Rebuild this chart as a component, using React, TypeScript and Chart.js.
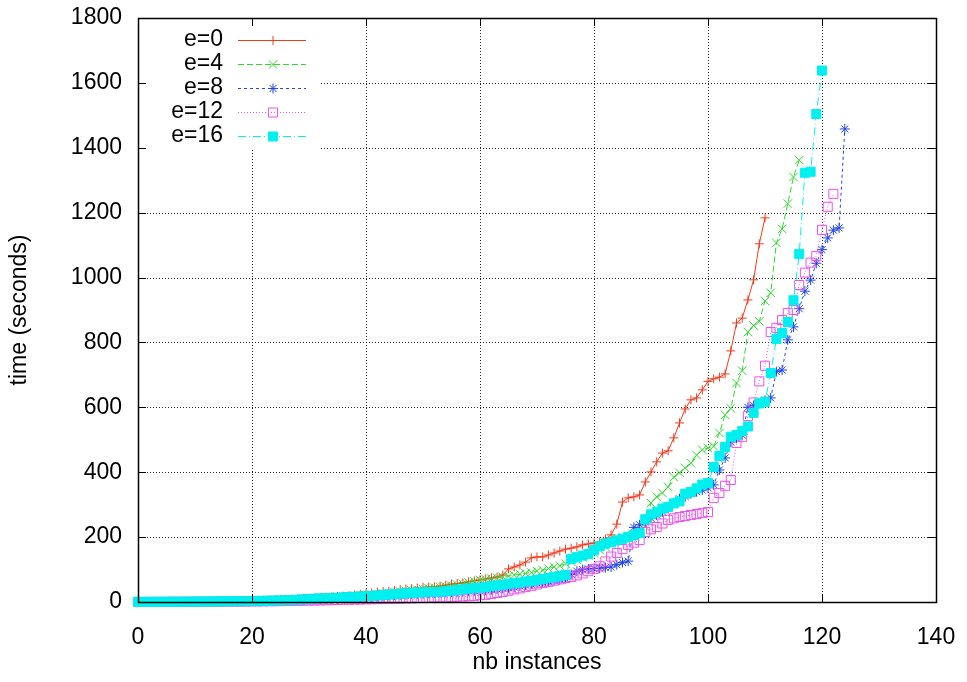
import React, { useEffect, useRef } from 'react';
import { Chart, registerables } from 'chart.js';

Chart.register(...registerables);

const FONT = '"Liberation Sans", Arial, Helvetica, sans-serif';
const FONT_SIZE = 23;

// Axis ticks
const xTicks = [0, 20, 40, 60, 80, 100, 120, 140];
const yTicks = [0, 200, 400, 600, 800, 1000, 1200, 1400, 1600, 1800];

// Series labels
const seriesLabels = ['e=0', 'e=4', 'e=8', 'e=12', 'e=16'];

// time (seconds) for instance index 0..N (sorted)
const e0 = [
  0.3, 0.4, 0.5, 0.6, 0.7, 0.8, 0.9, 1.0, 1.1, 1.2,
  1.3, 1.5, 1.7, 1.9, 2.1, 2.3, 2.6, 2.9, 3.2, 3.5,
  4, 4.5, 5, 5.5, 6, 7, 8, 9, 10, 11,
  12, 13, 14, 15, 16, 17, 18, 19, 22, 24,
  26, 28, 30, 32, 33, 35, 38, 40, 41, 43,
  45, 46, 47, 49, 52, 55, 57, 59, 62, 65,
  68, 71, 74, 77, 83, 102, 108, 114, 123, 136,
  139, 139, 145, 151, 157, 163, 166, 170, 176, 179,
  182, 185, 194, 207, 240, 308, 321, 324, 330, 370,
  401, 432, 459, 466, 506, 552, 595, 623, 629, 654,
  680, 688, 693, 703, 774, 860, 875, 931, 993, 1104,
  1184,
];

const e4 = [
  0.2, 0.3, 0.4, 0.5, 0.6, 0.7, 0.8, 0.9, 1.0, 1.1,
  1.2, 1.4, 1.6, 1.8, 2.0, 2.2, 2.4, 2.7, 3.0, 3.3,
  3.6, 4, 4.5, 5, 5.5, 6, 7, 8, 9, 10,
  11, 12, 13, 14, 15, 16, 17, 18, 19, 20,
  21, 22, 24, 26, 28, 30, 32, 34, 36, 38,
  40, 42, 44, 46, 48, 50, 53, 56, 60, 64,
  68, 70, 72, 75, 78, 80, 83, 86, 88, 91,
  95, 98, 103, 108, 112, 118, 124, 130, 138, 144,
  150, 160, 170, 182, 190, 200, 204, 210, 218, 232,
  305, 324, 336, 355, 385, 398, 413, 428, 453, 469,
  475, 480, 521, 577, 597, 675, 713, 832, 852, 865,
  928, 953, 1107, 1150, 1228, 1310, 1362,
];

const e8 = [
  0.1, 0.2, 0.3, 0.3, 0.4, 0.5, 0.6, 0.7, 0.8, 0.9,
  1.0, 1.1, 1.2, 1.4, 1.6, 1.8, 2.0, 2.2, 2.5, 2.8,
  3.1, 3.4, 3.7, 4, 4.4, 4.8, 5.2, 5.7, 6.2, 6.8,
  7.4, 8, 8.6, 9.2, 10, 11, 12, 13, 14, 15,
  16, 17, 18, 19, 20, 21, 22, 23, 24, 25,
  26, 27, 28, 29, 30, 31, 32, 33, 34, 35,
  36, 37, 38, 40, 42, 44, 46, 49, 52, 55,
  58, 60, 63, 66, 68, 72, 85, 95, 100, 102,
  103, 104, 106, 108, 115, 122, 126, 230, 238, 248,
  258, 268, 278, 288, 305, 318, 325, 334, 340, 345,
  352, 361, 407, 444, 493, 505, 515, 600, 606, 612,
  622, 629, 710, 715, 808, 848, 904, 958, 992, 1044,
  1086, 1122, 1146, 1153, 1458,
];

const e12 = [
  0.1, 0.1, 0.2, 0.2, 0.3, 0.3, 0.4, 0.4, 0.5, 0.5,
  0.6, 0.7, 0.8, 0.9, 1.0, 1.1, 1.2, 1.3, 1.4, 1.5,
  1.7, 1.9, 2.1, 2.3, 2.5, 2.8, 3.1, 3.4, 3.7, 4,
  4.3, 4.6, 5, 5.4, 5.8, 6.2, 6.6, 7, 7.4, 7.8,
  8.2, 8.6, 9, 9.4, 9.8, 10, 10.5, 11, 11.5, 12,
  12.5, 13, 13.5, 14, 14.5, 15, 16, 17, 18, 19,
  21, 22, 25, 28, 31, 35, 39, 42, 46, 50,
  54, 59, 62, 66, 70, 74, 77, 82, 88, 95,
  102, 110, 125, 140, 151, 163, 176, 183, 191, 216,
  224, 231, 242, 253, 258, 262, 265, 268, 271, 274,
  277, 321, 336, 358, 376, 490, 509, 573, 615, 680,
  728, 832, 845, 869, 891, 900, 977, 1015, 1046, 1066,
  1147, 1218, 1258,
];

const e16 = [
  0.3, 0.4, 0.5, 0.6, 0.7, 0.8, 0.9, 1.0, 1.1, 1.2,
  1.3, 1.4, 1.5, 1.6, 1.8, 2.0, 2.2, 2.4, 2.6, 2.8,
  3.0, 3.3, 3.6, 4, 4.5, 5, 5.5, 6, 7, 8,
  9, 10, 11, 11.5, 12, 13, 14, 15, 16, 17,
  18, 19, 20, 22, 23, 24, 25, 27, 28, 29,
  30, 30.5, 31, 31, 33, 35, 37, 39, 41, 43,
  44, 46, 49, 51, 53, 56, 58, 60, 63, 65,
  68, 71, 74, 77, 80, 83, 133, 138, 143, 148,
  160, 172, 180, 184, 190, 195, 200, 206, 212, 255,
  270, 277, 288, 293, 304, 310, 334, 339, 350, 362,
  367, 416, 450, 478, 509, 515, 527, 541, 583, 612,
  617, 706, 811, 829, 863, 930, 1073, 1323, 1326, 1504,
  1638,
];

const seriesValues = [e0, e4, e8, e12, e16];
const seriesColors = ['#f23a1d', '#2ed82e', '#2244e6', '#f050f0', '#00f0f0'];
const seriesDash: number[][] = [[], [6, 3], [3, 3], [1, 2], [8, 3, 1, 3]];
const seriesPointStyle = ['cross', 'crossRot', 'star', 'rect', 'rect'];
const seriesPointRadius = [4.5, 6, 5, 6.4, 6.4];
const seriesFilled = [false, false, false, false, true];

function drawMarker(ctx: CanvasRenderingContext2D, style: string, x: number, y: number, r: number, color: string, filled: boolean) {
  ctx.save();
  ctx.setLineDash([]);
  ctx.strokeStyle = color;
  ctx.fillStyle = color;
  ctx.lineWidth = 1;
  ctx.beginPath();
  const d = r * Math.SQRT1_2;
  if (style === 'cross' || style === 'star') {
    ctx.moveTo(x - r, y); ctx.lineTo(x + r, y);
    ctx.moveTo(x, y - r); ctx.lineTo(x, y + r);
  }
  if (style === 'crossRot' || style === 'star') {
    ctx.moveTo(x - d, y - d); ctx.lineTo(x + d, y + d);
    ctx.moveTo(x - d, y + d); ctx.lineTo(x + d, y - d);
  }
  if (style === 'rect') {
    ctx.rect(x - d, y - d, 2 * d, 2 * d);
    if (filled) ctx.fill();
  }
  ctx.stroke();
  ctx.restore();
}

const framePlugin = {
  id: 'gnuplotFrame',
  beforeDatasetsDraw(chart: any) {
    const { ctx, chartArea: a, scales } = chart;
    const xs = scales.x;
    const ys = scales.y;
    ctx.save();
    ctx.strokeStyle = 'rgba(0,0,0,0.85)';
    ctx.lineWidth = 1;
    ctx.setLineDash([1, 2]);
    for (const v of xTicks) {
      if (v === xTicks[0] || v === xTicks[xTicks.length - 1]) continue;
      const px = Math.round(xs.getPixelForValue(v)) + 0.5;
      ctx.beginPath();
      ctx.moveTo(px, a.top);
      ctx.lineTo(px, a.bottom);
      ctx.stroke();
    }
    for (const v of yTicks) {
      if (v === yTicks[0] || v === yTicks[yTicks.length - 1]) continue;
      const py = Math.round(ys.getPixelForValue(v)) + 0.5;
      ctx.beginPath();
      ctx.moveTo(a.left, py);
      ctx.lineTo(a.right, py);
      ctx.stroke();
    }
    ctx.setLineDash([]);
    // opaque key box
    ctx.fillStyle = '#ffffff';
    ctx.fillRect(a.left + 1, a.top + 1, 181, 131);
    ctx.restore();
  },
  afterDatasetsDraw(chart: any) {
    const { ctx, chartArea: a, scales } = chart;
    const xs = scales.x;
    const ys = scales.y;
    ctx.save();
    ctx.setLineDash([]);
    ctx.strokeStyle = '#000';
    ctx.lineWidth = 1;
    const tl = 8;
    for (const v of xTicks) {
      const px = Math.round(xs.getPixelForValue(v)) + 0.5;
      ctx.beginPath();
      ctx.moveTo(px, a.bottom); ctx.lineTo(px, a.bottom - tl);
      ctx.moveTo(px, a.top); ctx.lineTo(px, a.top + tl);
      ctx.stroke();
    }
    for (const v of yTicks) {
      const py = Math.round(ys.getPixelForValue(v)) + 0.5;
      ctx.beginPath();
      ctx.moveTo(a.left, py); ctx.lineTo(a.left + tl, py);
      ctx.moveTo(a.right, py); ctx.lineTo(a.right - tl, py);
      ctx.stroke();
    }
    ctx.lineWidth = 1.5;
    ctx.strokeRect(Math.round(a.left) + 0.5, Math.round(a.top) + 0.5, Math.round(a.right - a.left), Math.round(a.bottom - a.top));

    // key
    ctx.font = `${FONT_SIZE}px ${FONT}`;
    ctx.textAlign = 'right';
    ctx.textBaseline = 'middle';
    for (let i = 0; i < seriesLabels.length; i++) {
      const y = a.top + 22 + i * 24;
      ctx.fillStyle = '#000';
      ctx.fillText(seriesLabels[i], a.left + 85, y);
      ctx.save();
      ctx.strokeStyle = seriesColors[i];
      ctx.lineWidth = 1;
      ctx.setLineDash(seriesDash[i]);
      ctx.beginPath();
      ctx.moveTo(a.left + 100, y + 0.5);
      ctx.lineTo(a.left + 168, y + 0.5);
      ctx.stroke();
      ctx.restore();
      drawMarker(ctx, seriesPointStyle[i], a.left + 135, y + 0.5, seriesPointRadius[i], seriesColors[i], seriesFilled[i]);
    }
    ctx.restore();
  },
};

export default function App() {
  const canvasRef = useRef<HTMLCanvasElement | null>(null);

  useEffect(() => {
    const canvas = canvasRef.current;
    if (!canvas) return;
    const n = seriesLabels.length;
    const datasets = seriesLabels.map((label, i) => ({
      label,
      data: seriesValues[i].map((v, k) => ({ x: k, y: v })),
      borderColor: seriesColors[i],
      backgroundColor: seriesFilled[i] ? seriesColors[i] : 'rgba(0,0,0,0)',
      pointBackgroundColor: seriesFilled[i] ? seriesColors[i] : 'rgba(0,0,0,0)',
      pointBorderColor: seriesColors[i],
      pointStyle: seriesPointStyle[i],
      pointRadius: seriesPointRadius[i],
      pointBorderWidth: 1,
      borderWidth: 1,
      borderDash: seriesDash[i],
      fill: false,
      tension: 0,
      clip: false as any,
      order: n - 1 - i,
    }));

    const chart = new Chart(canvas, {
      type: 'line',
      data: { datasets: datasets as any },
      options: {
        animation: false,
        responsive: false,
        maintainAspectRatio: false,
        devicePixelRatio: 1,
        events: [],
        layout: { padding: { top: 18, right: 31, left: 0, bottom: 0 } },
        plugins: { legend: { display: false }, tooltip: { enabled: false } },
        scales: {
          x: {
            type: 'linear',
            min: xTicks[0],
            max: xTicks[xTicks.length - 1],
            afterBuildTicks: (s: any) => { s.ticks = xTicks.map((v) => ({ value: v })); },
            afterFit: (s: any) => { s.height = 80; s.paddingLeft = 0; s.paddingRight = 0; },
            grid: { display: false, drawTicks: false },
            border: { display: false },
            ticks: { color: '#000', font: { family: FONT, size: FONT_SIZE }, padding: 22, maxRotation: 0, autoSkip: false, callback: (v: any) => String(v) },
            title: { display: true, text: 'nb instances', color: '#000', font: { family: FONT, size: FONT_SIZE }, padding: { top: 0, bottom: 6 } },
          },
          y: {
            type: 'linear',
            min: yTicks[0],
            max: yTicks[yTicks.length - 1],
            afterBuildTicks: (s: any) => { s.ticks = yTicks.map((v) => ({ value: v })); },
            afterFit: (s: any) => { s.width = 138; s.paddingTop = 0; s.paddingBottom = 0; },
            grid: { display: false, drawTicks: false },
            border: { display: false },
            ticks: { color: '#000', font: { family: FONT, size: FONT_SIZE }, padding: 16, autoSkip: false, callback: (v: any) => String(v) },
            title: { display: true, text: 'time (seconds)', color: '#000', font: { family: FONT, size: FONT_SIZE }, padding: { top: 6, bottom: 0 } },
          },
        },
      } as any,
      plugins: [framePlugin as any],
    });
    return () => chart.destroy();
  }, []);

  return (
    <div style={{ position: 'absolute', left: 0, top: 0, width: 967, height: 682, background: '#fff' }}>
      <canvas ref={canvasRef} width={967} height={682} style={{ display: 'block', width: 967, height: 682 }} />
    </div>
  );
}
